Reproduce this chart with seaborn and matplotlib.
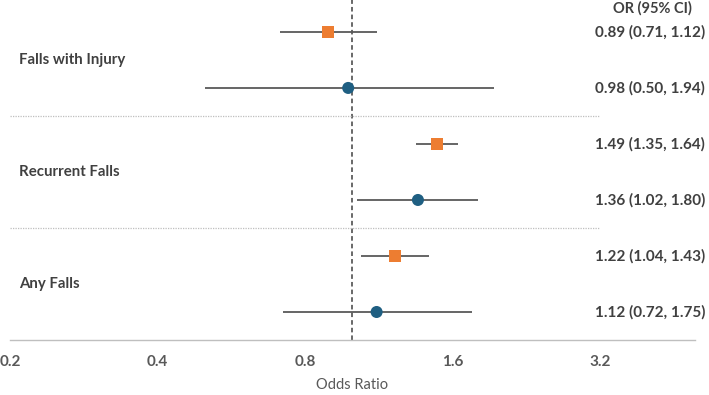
import matplotlib
matplotlib.use("Agg")
import matplotlib.pyplot as plt
from matplotlib.ticker import FixedLocator, NullLocator
import seaborn as sns
import pandas as pd
import numpy as np

# Data
outcomes = ["Falls with Injury", "Falls with Injury", "Recurrent Falls", "Recurrent Falls", "Any Falls", "Any Falls"]
series = ["A", "B", "A", "B", "A", "B"]
odds_ratio = [0.89, 0.98, 1.49, 1.36, 1.22, 1.12]
ci_low = [0.71, 0.50, 1.35, 1.02, 1.04, 0.72]
ci_high = [1.12, 1.94, 1.64, 1.80, 1.43, 1.75]
ypos = [5.5, 4.5, 3.5, 2.5, 1.5, 0.5]
group_labels = ["Falls with Injury", "Recurrent Falls", "Any Falls"]
group_y = [5, 3, 1]
xticks = [0.2, 0.4, 0.8, 1.6, 3.2]
xtick_labels = ["0.2", "0.4", "0.8", "1.6", "3.2"]

df = pd.DataFrame({"outcome": outcomes, "series": series, "or": odds_ratio,
                   "lo": ci_low, "hi": ci_high, "y": ypos})

sns.set_theme(style="white")
plt.rcParams['font.family'] = ['Lato', 'DejaVu Sans']

fig = plt.figure(figsize=(7.09, 3.95), dpi=100)
ax = fig.add_axes([10/709, 55/395, 685/709, 340/395])

ax.hlines(df["y"], df["lo"], df["hi"], color="#595959", lw=1.3, zorder=1)
ax.axvline(1.0, color="#404040", lw=1.1, ls=(0, (3, 2)), zorder=0)
for yy in [2, 4]:
    ax.plot([0.2, 3.2], [yy, yy], color="#BFBFBF", lw=0.9, ls=(0, (1, 1)), zorder=0)

sns.scatterplot(data=df, x="or", y="y", hue="series", style="series",
                palette={"A": "#ED7D31", "B": "#1F5F82"},
                markers={"A": "s", "B": "o"}, s=75, linewidth=0,
                legend=False, ax=ax, zorder=3)

ax.set_xscale("log", base=2)
ax.set_xlim(0.2, 5.0)
ax.set_ylim(0, 6.07)
ax.xaxis.set_major_locator(FixedLocator(xticks))
ax.xaxis.set_minor_locator(NullLocator())
ax.set_xticklabels(xtick_labels, fontsize=11, fontweight="bold", color="#595959")
ax.tick_params(axis="x", length=0, pad=11)
ax.set_yticks([])
ax.set_ylabel("")
ax.set_xlabel("Odds Ratio", fontsize=10.5, color="#595959", labelpad=6)

for s in ["top", "right", "left"]:
    ax.spines[s].set_visible(False)
ax.spines["bottom"].set_color("#BFBFBF")
ax.spines["bottom"].set_linewidth(1.0)

for lab, gy in zip(group_labels, group_y):
    ax.text(0.2085, gy, lab, fontsize=10.8, fontweight="bold", color="#404040",
            va="center", ha="left")

ax.text(4.09, 5.92, "OR (95% CI)", fontsize=10.5, fontweight="bold", color="#404040",
        va="center", ha="center")
for o, l, h, yy in zip(odds_ratio, ci_low, ci_high, ypos):
    ax.text(3.12, yy, f"{o:.2f} ({l:.2f}, {h:.2f})", fontsize=11, fontweight="bold",
            color="#404040", va="center", ha="left")

fig.savefig("out.png", dpi=100)
